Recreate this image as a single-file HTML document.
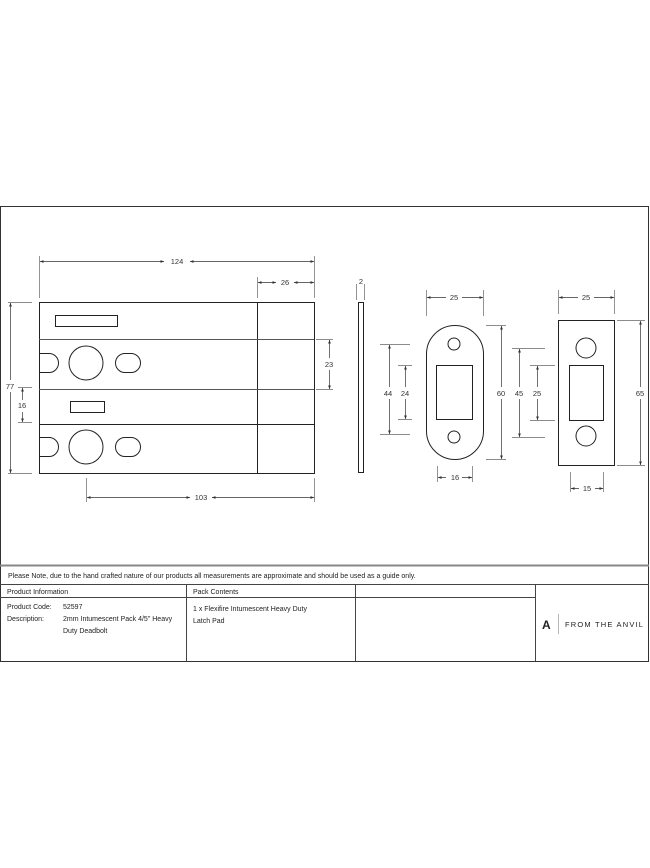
<!DOCTYPE html>
<html><head><style>
body{margin:0;background:#fff;width:650px;height:868px;overflow:hidden;font-family:"Liberation Sans",sans-serif}
svg{position:absolute;left:0;top:0}
</style></head><body>
<svg width="650" height="868" viewBox="0 0 650 868" font-family="Liberation Sans, sans-serif">
<defs><marker id="a" markerWidth="6" markerHeight="6" refX="5" refY="3" orient="auto-start-reverse"><path d="M0,1 L5,3 L0,5z" fill="#333"/></marker></defs>
<g fill="none" stroke="#444" stroke-width="1">
<rect x="0.5" y="206.5" width="648" height="455" stroke="#333"/>
<line x1="0" y1="565.5" x2="649" y2="565.5" stroke="#888" stroke-width="2"/>
<line x1="0" y1="584.5" x2="649" y2="584.5"/>
<line x1="0" y1="597.5" x2="535" y2="597.5"/>
<line x1="186.5" y1="584" x2="186.5" y2="661"/>
<line x1="355.5" y1="584" x2="355.5" y2="661"/>
<line x1="535.5" y1="584" x2="535.5" y2="661"/>
</g>
<g fill="none" stroke="#222" stroke-width="1">
<rect x="39.5" y="302.5" width="275" height="171"/>
<line x1="257.5" y1="302" x2="257.5" y2="473"/>
<line x1="39" y1="339.5" x2="314" y2="339.5" stroke="#555"/>
<line x1="39" y1="389.5" x2="314" y2="389.5" stroke="#555"/>
<line x1="39" y1="424.5" x2="314" y2="424.5"/>
<rect x="55.5" y="315.5" width="62" height="11"/>
<rect x="70.5" y="401.5" width="34" height="11"/>
<circle cx="86" cy="363" r="17"/><circle cx="86" cy="447" r="17"/>
<path d="M39.5,353.5 H49 A9.5,9.5 0 0 1 49,372.5 H39.5"/>
<path d="M39.5,437.5 H49 A9.5,9.5 0 0 1 49,456.5 H39.5"/>
<rect x="115.5" y="353.5" width="25" height="19" rx="9.5"/>
<rect x="115.5" y="437.5" width="25" height="19" rx="9.5"/>
<rect x="358.5" y="302.5" width="5" height="170"/>
<rect x="426.5" y="325.5" width="57" height="134" rx="28.5"/>
<circle cx="454" cy="344" r="6"/><circle cx="454" cy="437" r="6"/>
<rect x="436.5" y="365.5" width="36" height="54"/>
<rect x="558.5" y="320.5" width="56" height="145"/>
<circle cx="586" cy="348" r="10"/><circle cx="586" cy="436" r="10"/>
<rect x="569.5" y="365.5" width="34" height="55"/>
</g>
<g stroke="#666" stroke-width="0.7" fill="none">
<path d="M39.5,256V298M314.5,256V298M257.5,277V298M316,339.5H333M316,389.5H333M8,302.5H32M8,473.5H32M18,387.5H32M18,422.5H32M86.5,478V502M314.5,478V502M356.5,284V300M364.5,284V300M426.5,290V316M483.5,290V316M486,325.5H506M486,459.5H506M380,344.5H410M380,434.5H410M398,365.5H412M398,419.5H412M437.5,466V482M472.5,466V482M558.5,290V314M614.5,290V314M617,320.5H645M617,465.5H645M512,348.5H545M512,437.5H545M530,365.5H555M530,420.5H555M570.5,472V492M603.5,472V492"/>
</g>
<g stroke="#333" stroke-width="0.7" marker-start="url(#a)" marker-end="url(#a)">
<line x1="40" y1="261.5" x2="164" y2="261.5" marker-end=""/><line x1="190" y1="261.5" x2="314" y2="261.5" marker-start=""/>
<line x1="258" y1="282.5" x2="276" y2="282.5" marker-end=""/><line x1="294" y1="282.5" x2="314" y2="282.5" marker-start=""/>
<line x1="329.5" y1="340" x2="329.5" y2="389"/>
<line x1="10.5" y1="303" x2="10.5" y2="473"/>
<line x1="22.5" y1="388" x2="22.5" y2="422"/>
<line x1="87" y1="497.5" x2="190" y2="497.5" marker-end=""/><line x1="212" y1="497.5" x2="314" y2="497.5" marker-start=""/>
<line x1="427" y1="297.5" x2="483" y2="297.5"/>
<line x1="501.5" y1="326" x2="501.5" y2="459"/>
<line x1="389.5" y1="345" x2="389.5" y2="434"/>
<line x1="405.5" y1="366" x2="405.5" y2="419"/>
<line x1="438" y1="477.5" x2="472" y2="477.5"/>
<line x1="559" y1="297.5" x2="614" y2="297.5"/>
<line x1="640.5" y1="321" x2="640.5" y2="465"/>
<line x1="519.5" y1="349" x2="519.5" y2="437"/>
<line x1="537.5" y1="366" x2="537.5" y2="420"/>
<line x1="571" y1="488.5" x2="603" y2="488.5"/>
</g>
<g font-size="7.5" fill="#333" text-anchor="middle">
<rect x="166" y="255" width="22" height="12" fill="#fff"/><text x="177" y="264">124</text>
<rect x="276" y="277" width="18" height="10" fill="#fff"/><text x="285" y="285">26</text>
<rect x="323" y="358" width="14" height="12" fill="#fff"/><text x="329" y="367">23</text>
<rect x="4" y="380" width="14" height="12" fill="#fff"/><text x="10" y="389">77</text>
<rect x="16" y="400" width="14" height="12" fill="#fff"/><text x="22" y="408">16</text>
<rect x="190" y="492" width="22" height="12" fill="#fff"/><text x="201" y="500">103</text>
<text x="361" y="284">2</text>
<rect x="446" y="292" width="16" height="10" fill="#fff"/><text x="454" y="300">25</text>
<rect x="494" y="387" width="14" height="12" fill="#fff"/><text x="501" y="396">60</text>
<rect x="382" y="387" width="14" height="12" fill="#fff"/><text x="388" y="396">44</text>
<rect x="398" y="387" width="14" height="12" fill="#fff"/><text x="405" y="396">24</text>
<rect x="446" y="472" width="16" height="10" fill="#fff"/><text x="455" y="480">16</text>
<rect x="578" y="292" width="16" height="10" fill="#fff"/><text x="586" y="300">25</text>
<rect x="633" y="387" width="14" height="12" fill="#fff"/><text x="640" y="396">65</text>
<rect x="512" y="387" width="14" height="12" fill="#fff"/><text x="519" y="396">45</text>
<rect x="530" y="387" width="14" height="12" fill="#fff"/><text x="537" y="396">25</text>
<rect x="579" y="483" width="16" height="10" fill="#fff"/><text x="587" y="491">15</text>
</g>
<g font-size="7" fill="#222">
<text x="8" y="578">Please Note, due to the hand crafted nature of our products all measurements are approximate and should be used as a guide only.</text>
<text x="7" y="594">Product Information</text>
<text x="193" y="594">Pack Contents</text>
<text x="7" y="609">Product Code:</text><text x="63" y="609">52597</text>
<text x="7" y="621">Description:</text><text x="63" y="621">2mm Intumescent Pack 4/5" Heavy</text>
<text x="63" y="633">Duty Deadbolt</text>
<text x="193" y="611">1 x Flexifire Intumescent Heavy Duty</text>
<text x="193" y="623">Latch Pad</text>
<text x="565" y="627" font-size="7.5" letter-spacing="1.2">FROM THE ANVIL</text>
<text x="542" y="629" font-size="12" font-weight="bold">A</text>
</g>
<line x1="558.5" y1="614" x2="558.5" y2="634" stroke="#999" stroke-width="0.7"/>
</svg>
</body></html>
